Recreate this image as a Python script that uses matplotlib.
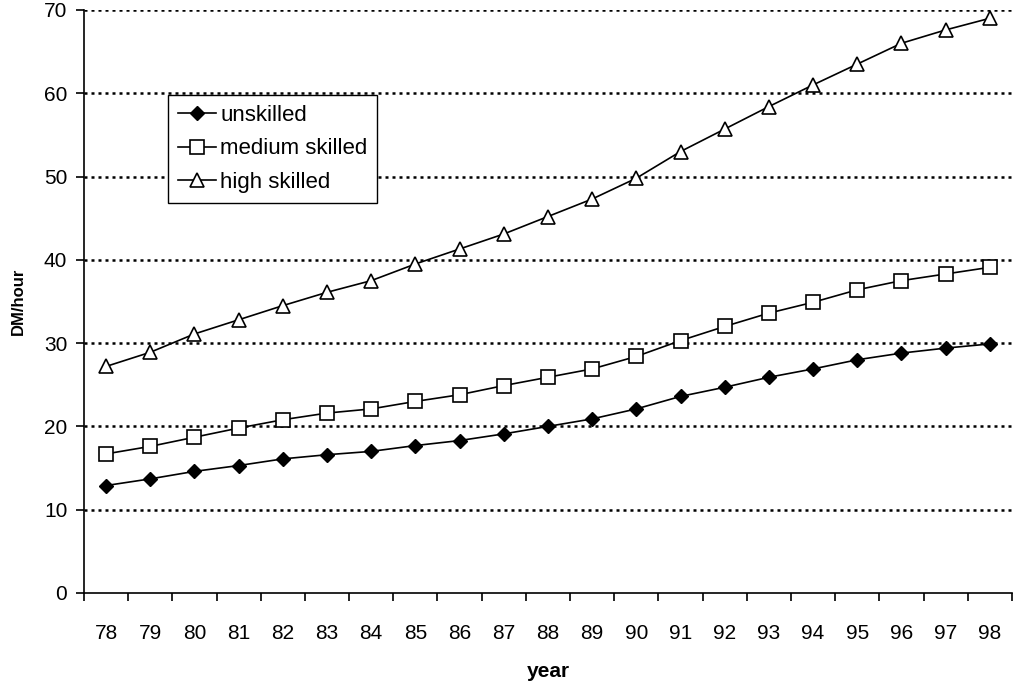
import matplotlib
matplotlib.use("Agg")
import matplotlib.pyplot as plt
import numpy as np

plt.rcParams['font.family'] = ['Liberation Sans', 'DejaVu Sans']

years = ["78", "79", "80", "81", "82", "83", "84", "85", "86", "87", "88",
         "89", "90", "91", "92", "93", "94", "95", "96", "97", "98"]
unskilled = [12.9, 13.7, 14.6, 15.3, 16.1, 16.6, 17.0, 17.7, 18.3, 19.1, 20.0,
             20.9, 22.1, 23.6, 24.7, 25.9, 26.9, 28.0, 28.8, 29.4, 29.9]
medium = [16.7, 17.6, 18.7, 19.8, 20.8, 21.6, 22.1, 23.0, 23.8, 24.9, 25.9,
          26.9, 28.4, 30.3, 32.0, 33.6, 34.9, 36.4, 37.5, 38.3, 39.1]
high = [27.2, 28.9, 31.1, 32.8, 34.5, 36.1, 37.5, 39.5, 41.3, 43.1, 45.2,
        47.3, 49.8, 53.0, 55.7, 58.4, 61.0, 63.5, 66.0, 67.6, 69.0]
yticks = [0, 10, 20, 30, 40, 50, 60, 70]

fig = plt.figure(figsize=(10.17, 6.86), dpi=100)
ax = fig.add_axes([0.0826, 0.1356, 0.9124, 0.8499])

x = np.arange(len(years))
ax.plot(x, unskilled, color='black', lw=1.2, marker='D', ms=7.5,
        mfc='black', mec='black', label='unskilled', zorder=3)
ax.plot(x, medium, color='black', lw=1.2, marker='s', ms=9.5,
        mfc='white', mec='black', mew=1.2, label='medium skilled', zorder=3)
ax.plot(x, high, color='black', lw=1.2, marker='^', ms=10,
        mfc='white', mec='black', mew=1.2, label='high skilled', zorder=3)

ax.set_xlim(-0.5, len(years) - 0.5)
ax.set_ylim(0, 70)
ax.set_yticks(yticks)
ax.set_xticks(x)
ax.set_xticklabels(years)
ax.set_xticks(np.arange(-0.5, len(years), 1.0), minor=True)
ax.tick_params(axis='x', which='major', length=0, pad=22, labelsize=15)
ax.tick_params(axis='x', which='minor', length=6, width=1.2, direction='out')
ax.tick_params(axis='y', which='major', length=6, width=1.2, labelsize=15, pad=6)

for v in yticks[1:]:
    ax.axhline(v, color='black', lw=1.8, ls=(0, (1.2, 1.6)), zorder=1)

for s in ['top', 'right']:
    ax.spines[s].set_visible(False)
for s in ['left', 'bottom']:
    ax.spines[s].set_linewidth(1.2)

ax.set_xlabel('year', fontsize=15, fontweight='bold', labelpad=14)
ax.set_ylabel('DM/hour', fontsize=12, fontweight='bold', labelpad=13)

leg = ax.legend(loc='upper left', bbox_to_anchor=(0.0905, 0.854), fontsize=16,
                frameon=True, fancybox=False, edgecolor='black', framealpha=1,
                handlelength=1.7, handletextpad=0.2, borderpad=0.45,
                labelspacing=0.55, borderaxespad=0)
leg.get_frame().set_linewidth(1.0)

fig.savefig('out.png', dpi=100)
